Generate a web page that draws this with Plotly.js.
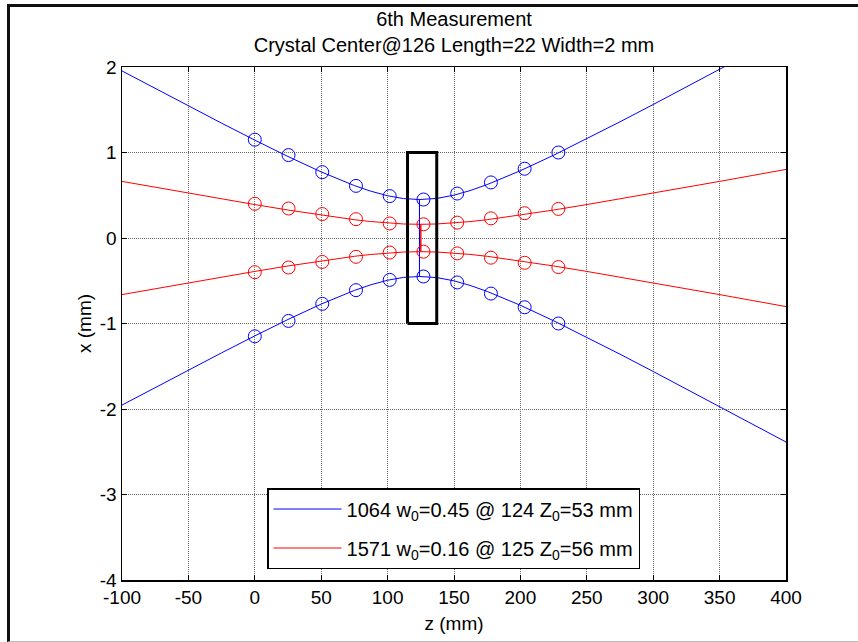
<!DOCTYPE html>
<html>
<head>
<meta charset="utf-8">
<script src="https://cdn.plot.ly/plotly-3.0.1.min.js"></script>
<style>
  html, body { margin: 0; padding: 0; background: #fff; }
  #wrap { position: relative; width: 858px; height: 642px; }
  #chart { position: absolute; left: 0; top: 0; width: 858px; height: 642px; }
  #frame { position: absolute; left: 7px; top: 4px; width: 851px; height: 638px;
           border-top: 3px solid #111; border-left: 3px solid #111; border-bottom: 1px solid #bbb;
           box-sizing: border-box; pointer-events: none; }
</style>
</head>
<body>
<div id="wrap">
  <div id="chart"></div>
  <div id="frame"></div>
</div>
<script>
// ---- data ----
const zMeas = [0, 25.4, 50.8, 76.2, 101.6, 127, 152.4, 177.8, 203.2, 228.6];
const w1064Meas = [1.15, 0.97, 0.77, 0.61, 0.49, 0.45, 0.52, 0.65, 0.81, 1.00];
const w1571Meas = [0.40, 0.345, 0.28, 0.22, 0.17, 0.16, 0.18, 0.23, 0.29, 0.34];

const zFit1064 = [-100, -75, -50, -25, 0, 25, 50, 62, 75, 87, 100, 112, 124, 137, 150, 162, 175, 187, 200, 225, 250, 275, 300, 325, 350, 375, 400];
const wFit1064 = [1.954, 1.749, 1.544, 1.343, 1.145, 0.953, 0.773, 0.692, 0.613, 0.549, 0.494, 0.461, 0.45, 0.463, 0.501, 0.554, 0.625, 0.699, 0.787, 0.968, 1.161, 1.359, 1.561, 1.765, 1.971, 2.178, 2.386];
const waist1064 = 124;

const zFit1571 = [-100, -75, -50, -25, 0, 25, 50, 75, 87, 100, 112, 125, 137, 150, 162, 175, 200, 225, 250, 275, 300, 325, 350, 375, 400];
const wFit1571 = [0.662, 0.593, 0.525, 0.457, 0.391, 0.327, 0.267, 0.214, 0.193, 0.175, 0.164, 0.16, 0.164, 0.175, 0.192, 0.214, 0.267, 0.327, 0.391, 0.457, 0.525, 0.593, 0.662, 0.732, 0.802];
const waist1571 = 125;

const crystalCenter = 126;
const crystalLength = 22;
const crystalWidth = 2;

const legend1064 = '1064 w<sub>0</sub>=0.45 @ 124 Z<sub>0</sub>=53 mm';
const legend1571 = '1571 w<sub>0</sub>=0.16 @ 125 Z<sub>0</sub>=56 mm';

const xTicks = [-100, -50, 0, 50, 100, 150, 200, 250, 300, 350, 400];
const yTicks = [-4, -3, -2, -1, 0, 1, 2];

const titleText = '6th Measurement<br>Crystal Center@126 Length=22 Width=2 mm';

// ---- build traces ----
function crossBranches(z, w, waist) {
  const k = z.indexOf(waist);
  const x = z.slice(0, k + 1).concat(z.slice(k));
  const yA = w.slice(0, k + 1).concat(w.slice(k).map(v => -v));
  const yB = w.slice(0, k + 1).map(v => -v).concat(w.slice(k));
  return { x, yA, yB };
}

const FONT = 'Arial, "Liberation Sans", Helvetica, sans-serif';
const b = crossBranches(zFit1064, wFit1064, waist1064);
const r = crossBranches(zFit1571, wFit1571, waist1571);

const traces = [
  { x: b.x, y: b.yA, mode: 'lines', line: { color: '#0000ff', width: 1 }, name: legend1064, showlegend: true, legendgroup: 'b' },
  { x: r.x, y: r.yA, mode: 'lines', line: { color: '#ff0000', width: 1 }, name: legend1571, showlegend: true, legendgroup: 'r' },
  { x: b.x, y: b.yB, mode: 'lines', line: { color: '#0000ff', width: 1 }, showlegend: false, legendgroup: 'b' },
  { x: r.x, y: r.yB, mode: 'lines', line: { color: '#ff0000', width: 1 }, showlegend: false, legendgroup: 'r' },
  { x: zMeas.concat(zMeas), y: w1064Meas.concat(w1064Meas.map(v => -v)), mode: 'markers',
    marker: { symbol: 'circle-open', size: 13, color: '#0000ff', line: { width: 1 } }, showlegend: false },
  { x: zMeas.concat(zMeas), y: w1571Meas.concat(w1571Meas.map(v => -v)), mode: 'markers',
    marker: { symbol: 'circle-open', size: 13, color: '#ff0000', line: { width: 1 } }, showlegend: false },
  { x: [crystalCenter - crystalLength / 2, crystalCenter + crystalLength / 2, crystalCenter + crystalLength / 2, crystalCenter - crystalLength / 2, crystalCenter - crystalLength / 2],
    y: [-crystalWidth / 2, -crystalWidth / 2, crystalWidth / 2, crystalWidth / 2, -crystalWidth / 2],
    mode: 'lines', line: { color: '#000000', width: 3 }, showlegend: false }
];

const axisCommon = {
  showline: true, linecolor: '#000', linewidth: 1.5, mirror: 'ticks',
  ticks: 'inside', ticklen: 5, tickcolor: '#000', tickwidth: 1,
  showgrid: true, gridcolor: '#6a6a6a', griddash: '1px,1px', gridwidth: 1,
  zeroline: false, tickfont: { family: FONT, size: 19, color: '#000' },
  tickmode: 'array'
};

const layout = {
  width: 858, height: 642,
  margin: { l: 122, r: 72, t: 67, b: 62 },
  paper_bgcolor: '#fff', plot_bgcolor: '#fff',
  font: { family: FONT, size: 19, color: '#000' },
  title: { text: titleText, x: 0.5, xref: 'paper', xanchor: 'center', y: 0.96, yref: 'container', yanchor: 'top',
           font: { family: FONT, size: 20, color: '#000' } },
  xaxis: Object.assign({}, axisCommon, { range: [-100, 400], tickvals: xTicks, ticktext: xTicks.map(String),
           title: { text: 'z (mm)', font: { family: FONT, size: 19 }, standoff: 9 } }),
  yaxis: Object.assign({}, axisCommon, { range: [-4, 2], tickvals: yTicks, ticktext: yTicks.map(String),
           title: { text: 'x (mm)', font: { family: FONT, size: 19 }, standoff: 3 } }),
  showlegend: true,
  legend: { x: 0.2184, y: 0.1793, xanchor: 'left', yanchor: 'top', bgcolor: '#fff', bordercolor: '#000', borderwidth: 1.5,
            font: { family: FONT, size: 20, color: '#000' }, itemwidth: 68, tracegroupgap: 10 }
};

Plotly.newPlot('chart', traces, layout, { displayModeBar: false, staticPlot: true });
</script>
</body>
</html>
